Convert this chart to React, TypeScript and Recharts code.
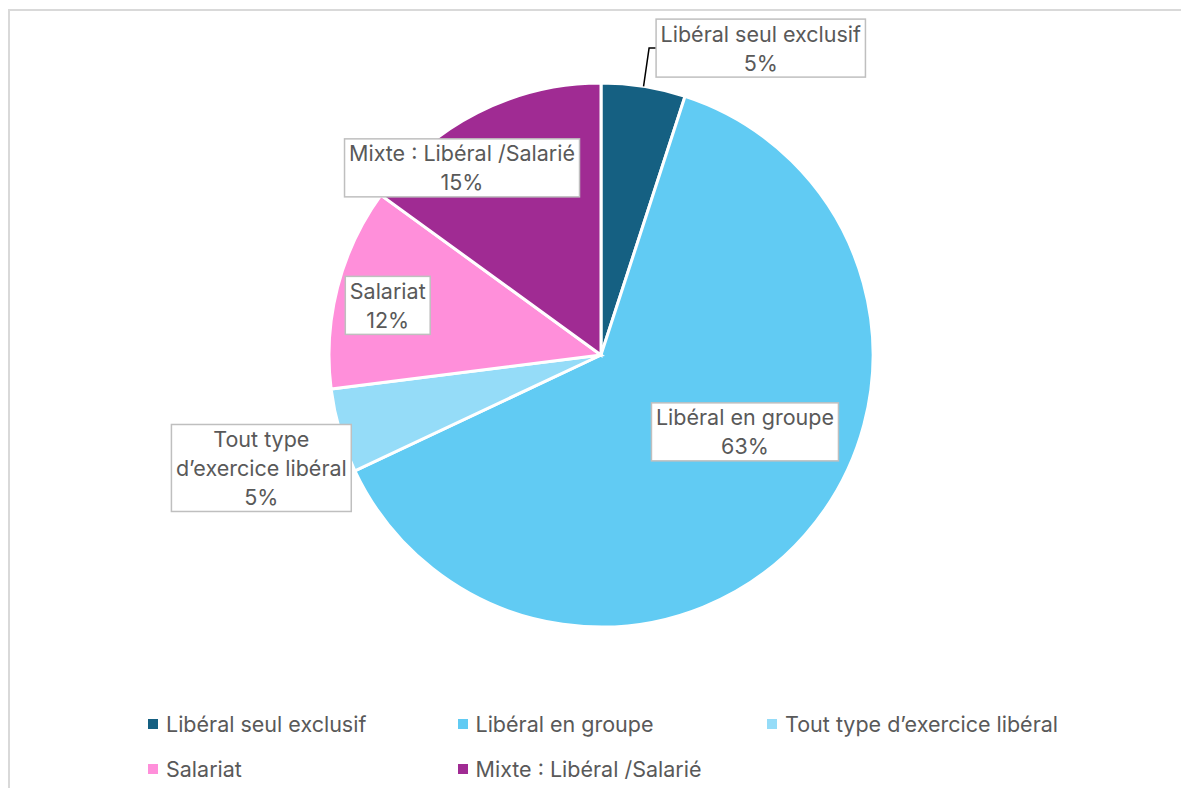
import { PieChart, Pie, Cell, Legend } from 'recharts';

// Répartition des modes d'exercice
const categories = [
  'Libéral seul exclusif',
  'Libéral en groupe',
  'Tout type d’exercice libéral',
  'Salariat',
  'Mixte : Libéral /Salarié',
];
const shares = [5, 63, 5, 12, 15];

// wrapped text used inside the data label boxes
const labelLines = [
  ['Libéral seul exclusif'],
  ['Libéral en groupe'],
  ['Tout type', 'd’exercice libéral'],
  ['Salariat'],
  ['Mixte : Libéral /Salarié'],
];

const colors = ['#156082', '#61CBF3', '#95DCF8', '#FF8FDA', '#A02B93'];

// label placement relative to each slice: radius factor + angular shift (deg)
const labelPlacement = [
  { r: 1.272, shift: 18.5 },
  { r: 0.6, shift: -13.3 },
  { r: 1.316, shift: -2.2 },
  { r: 0.805, shift: -1.3 },
  { r: 0.857, shift: -9.6 },
];

const FONT = '"Inter", "Noto Sans", sans-serif';
const FONT_SIZE = 21.5;
const LINE_H = 29;
const TEXT_COLOR = '#595959';

const data = categories.map((name, i) => ({ name, value: shares[i] }));

let ctx: CanvasRenderingContext2D | null = null;
function measure(text: string) {
  if (!ctx) ctx = document.createElement('canvas').getContext('2d');
  if (!ctx) return text.length * 10;
  ctx.font = `${FONT_SIZE}px ${FONT}`;
  return ctx.measureText(text).width;
}

const renderLabel = (props: any) => {
  const { cx, cy, midAngle, outerRadius, index, percent } = props;
  const place = labelPlacement[index];
  const rad = Math.PI / 180;
  const theta = (90 - midAngle + place.shift) * rad;
  const x = cx + outerRadius * place.r * Math.sin(theta);
  const y = cy - outerRadius * place.r * Math.cos(theta);
  const lines = [...labelLines[index], `${Math.round(percent * 100)}%`];
  const w = Math.max(...lines.map(measure)) + 9;
  const h = lines.length * LINE_H;
  const top = y - h / 2;

  let leader = null;
  if (index === 0) {
    const a = (90 - midAngle) * rad;
    const sx = cx + outerRadius * Math.sin(a);
    const sy = cy - outerRadius * Math.cos(a);
    const bx = x - w / 2;
    leader = (
      <path d={`M${sx},${sy} L${bx - 7},${y} L${bx},${y}`} stroke="#000" strokeWidth={1.5} fill="none" />
    );
  }

  return (
    <g key={`lbl-${index}`}>
      {leader}
      <rect x={x - w / 2} y={top} width={w} height={h} fill="#fff" stroke="#bfbfbf" strokeWidth={1.5} />
      {lines.map((t, i) => (
        <text
          key={i}
          x={x}
          y={top + LINE_H * (i + 0.5)}
          textAnchor="middle"
          dominantBaseline="central"
          fill={TEXT_COLOR}
          style={{ fontFamily: FONT, fontSize: FONT_SIZE }}
        >
          {t}
        </text>
      ))}
    </g>
  );
};

const renderLegend = () => (
  <div style={{ position: 'relative', width: 1181, height: 80, fontFamily: FONT, fontSize: FONT_SIZE, color: TEXT_COLOR }}>
    {categories.map((c, i) => (
      <div
        key={c}
        style={{
          position: 'absolute',
          left: 140 + (i % 3) * 309.5,
          top: 4 + Math.floor(i / 3) * 45,
          height: 24,
          display: 'flex',
          alignItems: 'center',
          whiteSpace: 'nowrap',
        }}
      >
        <span style={{ display: 'inline-block', width: 10, height: 10, background: colors[i], marginRight: 8 }} />
        <span>{c}</span>
      </div>
    ))}
  </div>
);

export default function App() {
  return (
    <div style={{ position: 'relative', width: 1181, height: 780, overflow: 'hidden', background: '#fff' }}>
      <div
        style={{
          position: 'absolute',
          left: 0,
          top: 1,
          width: 1200,
          height: 820,
          border: '2px solid #d9d9d9',
          boxSizing: 'border-box',
        }}
      />
      <PieChart width={1181} height={780} style={{ position: 'absolute', left: 0, top: 0 }}>
        <Pie
          data={data}
          dataKey="value"
          nameKey="name"
          cx={588}
          cy={342}
          outerRadius={272}
          startAngle={90}
          endAngle={-270}
          stroke="#fff"
          strokeWidth={3}
          label={renderLabel}
          labelLine={false}
          isAnimationActive={false}
        >
          {data.map((d, i) => (
            <Cell key={d.name} fill={colors[i]} />
          ))}
        </Pie>
        <Legend
          content={renderLegend}
          wrapperStyle={{ position: 'absolute', left: 0, top: 700, width: 1181, height: 80 }}
        />
      </PieChart>
    </div>
  );
}
